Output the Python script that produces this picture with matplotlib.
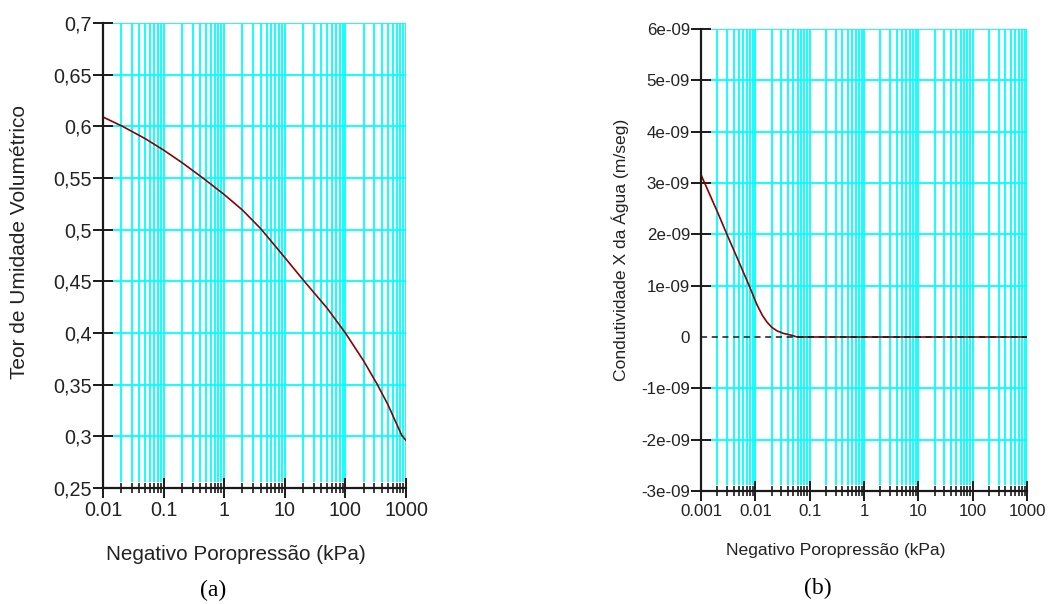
import matplotlib
matplotlib.use("Agg")
import matplotlib.pyplot as plt
import matplotlib.transforms as mtransforms
import numpy as np

# ---- data (a) ----
suction_a = [0.01, 0.021, 0.05, 0.1, 0.2, 0.445, 1, 2, 4, 10, 21, 50, 100, 200, 330, 500, 850, 1000]
theta_a = [0.609, 0.600, 0.588, 0.577, 0.565, 0.55, 0.534, 0.519, 0.501, 0.473, 0.45, 0.424,
           0.40, 0.373, 0.351, 0.331, 0.301, 0.296]
yticks_a = [0.25, 0.3, 0.35, 0.4, 0.45, 0.5, 0.55, 0.6, 0.65, 0.7]
yticklabels_a = ["0,25", "0,3", "0,35", "0,4", "0,45", "0,5", "0,55", "0,6", "0,65", "0,7"]
xticks_a = [0.01, 0.1, 1, 10, 100, 1000]
xticklabels_a = ["0.01", "0.1", "1", "10", "100", "1000"]

# ---- data (b) ----
suction_b = [0.001, 0.002, 0.003, 0.005, 0.0077, 0.0107, 0.0135, 0.0164, 0.02, 0.025, 0.033, 0.044,
             0.059, 0.1, 1, 10, 100, 1000]
k_b = [3.16e-9, 2.44e-9, 2.0e-9, 1.46e-9, 1.0e-9, 0.63e-9, 0.42e-9, 0.29e-9, 0.19e-9, 0.12e-9,
       0.07e-9, 0.04e-9, 0.0, 0.0, 0.0, 0.0, 0.0, 0.0]
yticks_b = [-3e-9, -2e-9, -1e-9, 0, 1e-9, 2e-9, 3e-9, 4e-9, 5e-9, 6e-9]
yticklabels_b = ["-3e-09", "-2e-09", "-1e-09", "0", "1e-09", "2e-09", "3e-09", "4e-09", "5e-09", "6e-09"]
xticks_b = [0.001, 0.01, 0.1, 1, 10, 100, 1000]
xticklabels_b = ["0.001", "0.01", "0.1", "1", "10", "100", "1000"]

TXT = "#222222"
GRID = "#00FFFF"
CURVE = "#8B0000"
plt.rcParams["font.family"] = ["Liberation Sans", "DejaVu Sans"]

W, H = 1049, 604
fig = plt.figure(figsize=(W / 100, H / 100), dpi=100)


def px_axes(x0, x1, ytop, ybot):
    return fig.add_axes([x0 / W, 1 - ybot / H, (x1 - x0) / W, (ybot - ytop) / H])


def style_axes(ax, xlim, ylim, xt, xtl, yt, ytl, fs, axw, axh, skip_y=None):
    ax.set_xscale("log")
    ax.set_xlim(*xlim)
    ax.set_ylim(*ylim)
    for s in ("top", "right"):
        ax.spines[s].set_visible(False)
    for s in ("left", "bottom"):
        ax.spines[s].set_color("#1a1a1a")
        ax.spines[s].set_linewidth(1.6)
        ax.spines[s].set_zorder(5)
    ax.set_xticks(xt)
    ax.set_xticklabels(xtl)
    ax.xaxis.set_minor_locator(matplotlib.ticker.LogLocator(base=10, subs=np.arange(2, 10)))
    ax.xaxis.set_minor_formatter(matplotlib.ticker.NullFormatter())
    ax.set_yticks(yt)
    ax.set_yticklabels(ytl)
    ax.tick_params(axis="both", which="major", direction="inout", length=14, width=1.4,
                   color="#1a1a1a", labelsize=fs, labelcolor=TXT)
    ax.tick_params(axis="x", which="major", pad=2)
    ax.tick_params(axis="y", which="major", pad=1)
    ax.tick_params(axis="x", which="minor", direction="inout", length=6.5, width=1.2,
                   color="#1a1a1a")
    ax.tick_params(axis="y", which="minor", left=False)
    # vertical grid lines (from just above axis to top)
    bt = mtransforms.blended_transform_factory(ax.transData, ax.transAxes)
    lo, hi = xlim
    xs = []
    d = lo
    while d < hi * 1.0001:
        for m in range(1, 10):
            v = d * m
            if v > lo * 1.0001 and v <= hi * 1.0001:
                xs.append(v)
        d *= 10
    ax.vlines(xs, 6 / axh, 1, transform=bt, color=GRID, lw=1.3, zorder=1)
    # horizontal grid lines (starting right of the tick)
    bt2 = mtransforms.blended_transform_factory(ax.transAxes, ax.transData)
    ys = [v for v in yt if v != ylim[0] and v != skip_y]
    ax.hlines(ys, 10 / axw, 1, transform=bt2, color=GRID, lw=1.3, zorder=1)


# ---- panel (a) ----
axa = px_axes(103, 406, 23, 488)
style_axes(axa, (0.01, 1000), (0.25, 0.7), xticks_a, xticklabels_a, yticks_a, yticklabels_a,
           14.2, 303, 465)
axa.plot(suction_a, theta_a, color=CURVE, lw=1.2, zorder=4)

# ---- panel (b) ----
axb = px_axes(701, 1027, 29, 491)
style_axes(axb, (0.001, 1000), (-3e-9, 6e-9), xticks_b, xticklabels_b, yticks_b, yticklabels_b,
           12.2, 326, 462, skip_y=0)
# hide tick mark at zero
for tick, v in zip(axb.yaxis.get_major_ticks(), yticks_b):
    if v == 0:
        tick.tick1line.set_visible(False)
axb.plot(suction_b, k_b, color=CURVE, lw=1.2, zorder=3)
axb.axhline(0, color="#1a1a1a", lw=1.1, ls=(0, (4, 3)), zorder=4)

# ---- labels ----
fig.text(20 / W, 1 - 242 / H, "Teor de Umidade Volumétrico", rotation=90, ha="center",
         va="center", fontsize=15, color=TXT)
fig.text(236 / W, 1 - 555 / H, "Negativo Poropressão (kPa)", ha="center", va="center",
         fontsize=14.9, color=TXT)
fig.text(620 / W, 1 - 250 / H, "Condutividade X da Água (m/seg)", rotation=90, ha="center",
         va="center", fontsize=12.6, color=TXT)
fig.text(836 / W, 1 - 550 / H, "Negativo Poropressão (kPa)", ha="center", va="center",
         fontsize=12.6, color=TXT)
fig.text(213 / W, 1 - 590 / H, "(a)", ha="center", va="center", fontsize=17,
         family=["Liberation Serif", "DejaVu Serif"], color="black")
fig.text(818 / W, 1 - 588 / H, "(b)", ha="center", va="center", fontsize=17,
         family=["Liberation Serif", "DejaVu Serif"], color="black")

fig.savefig("out.png", dpi=100)
